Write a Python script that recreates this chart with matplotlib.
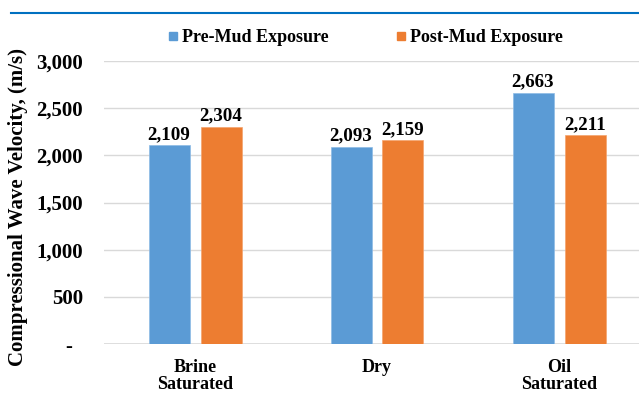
import matplotlib
matplotlib.use("Agg")
import matplotlib.pyplot as plt
from matplotlib.lines import Line2D
import numpy as np

categories = ["Brine\nSaturated", "Dry", "Oil\nSaturated"]
series_names = ["Pre-Mud Exposure", "Post-Mud Exposure"]
pre_mud = [2109, 2093, 2663]
post_mud = [2304, 2159, 2211]
y_ticks = [0, 500, 1000, 1500, 2000, 2500, 3000]
y_tick_labels = ["-  ", "500", "1,000", "1,500", "2,000", "2,500", "3,000"]

BLUE = "#5B9BD5"
ORANGE = "#ED7D31"

plt.rcParams["font.family"] = ["serif"]
plt.rcParams["font.serif"] = ["Liberation Serif", "DejaVu Serif"]
plt.rcParams["font.weight"] = "bold"

W, H = 639, 393
fig = plt.figure(figsize=(W / 100, H / 100), dpi=100)

# plot area in pixels: left 104, top 61 (3000), bottom 344 (0)
left, right = 104, 639
top, bottom = 61, 344
ax = fig.add_axes([left / W, (H - bottom) / H, (right - left) / W, (bottom - top) / H])

cat_px = 182.0  # pixels per category
x = np.arange(len(categories))
ax.set_xlim(-0.5, -0.5 + (right - left) / cat_px)
ax.set_ylim(0, 3000)

bw = 41 / cat_px
off = 26 / cat_px
b1 = ax.bar(x - off, pre_mud, bw, color=BLUE, edgecolor="#8DBBE6", linewidth=0.5, zorder=3)
b2 = ax.bar(x + off, post_mud, bw, color=ORANGE, edgecolor="#F4A46E", linewidth=0.5, zorder=3)

for bars, vals in ((b1, pre_mud), (b2, post_mud)):
    for rect, v in zip(bars, vals):
        ax.annotate(f"{v:,}", (rect.get_x() + rect.get_width() / 2, v),
                    xytext=(0, 1.5), textcoords="offset points", ha="center", va="bottom",
                    fontweight="bold", fontsize=13.7, color="black")

ax.set_yticks(y_ticks)
ax.set_yticklabels(y_tick_labels, fontweight="bold", fontsize=15)
ax.set_xticks(x)
ax.set_xticklabels(categories, fontweight="bold", fontsize=13, linespacing=1.0)
ax.tick_params(axis="both", length=0)
ax.tick_params(axis="y", pad=15)
ax.tick_params(axis="x", pad=11)

ax.grid(axis="y", color="#D9D9D9", linewidth=1.0, zorder=0)
for s in ax.spines.values():
    s.set_visible(False)
ax.axhline(0, color="#D9D9D9", linewidth=1.2, zorder=2)

ax.set_ylabel("Compressional Wave Velocity, (m/s)", fontweight="bold", fontsize=15)
ax.yaxis.set_label_coords((28 - left) / (right - left), (bottom - 207) / (bottom - top))

handles = [Line2D([], [], marker="s", linestyle="", markersize=5.8, color=c)
           for c in (BLUE, ORANGE)]
fig.legend(handles, series_names, loc="center left", bbox_to_anchor=(168.5 / W, 1 - 38 / H),
           ncol=2, frameon=False, borderpad=0, borderaxespad=0,
           handlelength=0.5, handletextpad=0.25, columnspacing=3.75,
           prop={"weight": "bold", "size": 13})

# top rule
fig.add_artist(Line2D([11 / W, 1.0], [1 - 12.7 / H, 1 - 12.7 / H], color="#0070C0",
                      linewidth=1.5, transform=fig.transFigure))

fig.savefig("out.png", dpi=100)
